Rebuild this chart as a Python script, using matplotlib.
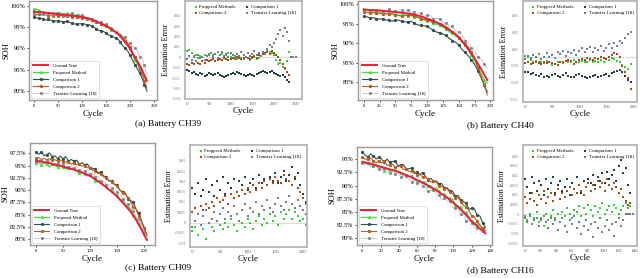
import numpy as np
import matplotlib
matplotlib.use("Agg")
import matplotlib.pyplot as plt

plt.rcParams['font.family'] = ['Liberation Serif', 'DejaVu Serif']

W, H = 640, 278

names_soh = ["Ground True", "Proposed Method", "Comparison 1", "Comparison 2", "Transfer Learning [18]"]
names_err = ["Proppsed Methods", "Comparison 1", "Comparison 2", "Transfer Learning [18]"]
captions = ["(a) Battery CH39", "(b) Battery CH40", "(c) Battery CH09", "(d) Battery CH16"]

# ---- CH39, every 5 cycles. SOH in %, errors in 1/1000
soh_a = [98.6, 98.55, 98.5, 98.45, 98.4, 98.35, 98.3, 98.25, 98.15, 98.1,
         98.0, 97.95, 97.9, 97.85, 97.8, 97.75, 97.7, 97.6, 97.55, 97.45,
         97.4, 97.25, 97.1, 96.95, 96.75, 96.5, 96.3, 96.05, 95.8, 95.55,
         95.3, 94.95, 94.6, 94.2, 93.8, 93.4, 92.8, 92.1, 91.4, 90.7,
         89.9, 88.9, 87.9, 87.0, 86.0, 84.9, 83.65, 82.4]
prop_a = [6, 7, 4, 1, 2, -1, 1, 0, 2, 1, 3, 4, 2, 3, 5, 2, 3, 1, 2, 4,
          0, -1, 1, -2, 0, -1, -2, 0, -1, -3, -1, 0, -2, -1, 1, 3, 4, 6, 5, 4,
          2, -3, -6, -5, -9, -11, -4, 5]
comp1_a = [-12, -13, -15, -14, -16, -17, -15, -16, -18, -17, -15, -16, -17, -16, -15, -17,
           -18, -19, -18, -17, -16, -15, -16, -14, -15, -16, -17, -18, -17, -16, -17, -18,
           -16, -15, -14, -13, -14, -15, -14, -13, -15, -16, -17, -18, -17, -19, -22, -24]
comp2_a = [-6, -7, -5, -6, -4, -5, -6, -4, -5, -3, -4, -3, -2, -4, -3, -2, -3, -1, -2, -3,
           -2, -1, -2, 0, -1, -2, -1, 0, -1, -2, 0, 1, -1, 2, 1, 3, 4, 5, 3, 6,
           4, 2, 0, -3, -6, -10, -14, -17]
tl_a = [-2, 1, -3, 0, -4, 2, -1, 0, -3, 1, 2, 4, 0, 3, -1, 2, 5, 1, 3, 0,
        4, 2, -1, 3, 1, 5, 2, 0, 4, 1, 3, 6, 2, 4, 1, 5, 3, 8, 12, 10,
        14, 18, 22, 26, 20, 28, 24, 16, 0, 0, 0]

# ---- CH40, every 5 cycles
soh_b = [98.6, 98.55, 98.5, 98.45, 98.4, 98.35, 98.3, 98.2, 98.15, 98.05,
         98.0, 97.9, 97.8, 97.7, 97.6, 97.5, 97.3, 97.1, 96.9, 96.6,
         96.3, 96.0, 95.7, 95.35, 95.0, 94.6, 94.1, 93.5, 92.9, 92.3,
         91.6, 90.6, 89.6, 88.5, 87.3, 86.1, 84.8, 83.5, 82.0, 80.6]
prop_b = [2, 0, -3, -5, -4, -6, -5, -7, -4, -6, -9, -8, -6, -5, -7, -4, -6, -5, -3, -6,
          -5, -4, -6, -5, -3, -5, -4, -6, -3, -5, -2, -3, -1, -2, -4, -6, -9, -11, -14, -8]
comp1_b = [-17, -18, -20, -19, -21, -22, -20, -23, -22, -24, -21, -20, -22, -23, -21, -19,
           -22, -24, -23, -21, -20, -22, -24, -25, -23, -22, -21, -23, -22, -21, -20, -22,
           -19, -17, -16, -15, -18, -22, -27, -30]
comp2_b = [-7, -6, -8, -7, -6, -7, -8, -6, -7, -5, -7, -8, -9, -6, -5, -4, -3, -4, -8, -5,
           -3, -2, -3, -1, -2, -3, -1, -2, 0, -1, -2, 1, 3, 5, 4, 1, -10, -18, -25, -38]
tl_b = [-2, 2, -1, 3, 0, 4, -2, 1, 5, 0, 3, -1, 6, 4, 8, 2, 7, 5, 9, 3,
        8, 11, 6, 10, 13, 7, 12, 9, 14, 8, 12, 16, 11, 18, 14, 20, 17, 24, 28, 31]

# ---- CH09, every 5 cycles
soh_c = [96.0, 95.9, 95.8, 95.7, 95.6, 95.5, 95.35, 95.2, 95.1, 94.95,
         94.8, 94.65, 94.5, 94.35, 94.2, 94.0, 93.8, 93.6, 93.35, 93.15,
         92.9, 92.55, 92.2, 91.8, 91.4, 91.0, 90.55, 90.1, 89.65, 89.2,
         88.7, 88.1, 87.5, 86.9, 86.25, 85.6, 84.8, 83.95, 83.0, 82.0,
         80.95, 79.9]
prop_c = [-4, -2, -6, -1, -3, -8, 0, -2, -4, 1, -1, -3, 0, -2, 2, -1, -4, 1, 0, -2,
          2, 0, -3, 1, 3, -1, 2, 0, 4, 1, 3, -1, 5, 2, 4, 6, 2, 5, 3, 1, 2, -1]
comp1_c = [17, 14, 19, 13, 16, 21, 15, 18, 13, 20, 16, 22, 14, 19, 17, 21, 15, 20, 18, 22,
           16, 19, 21, 17, 23, 19, 21, 18, 22, 20, 24, 19, 22, 25, 20, 23, 27, 21, 24, 18, 14, 10]
comp2_c = [5, 7, 4, 8, 6, 9, 7, 10, 8, 12, 10, 11, 13, 9, 14, 12, 15, 13, 16, 14,
           17, 15, 18, 16, 19, 17, 20, 18, 21, 19, 22, 20, 19, 23, 21, 20, 18, 22, 17, 15, 12, 9]
tl_c = [-2, 1, 4, -1, 3, 6, 0, 2, 5, 1, 4, 7, 2, 5, 3, 8, 4, 1, 6, 9,
        3, 7, 5, 10, 4, 8, 6, 11, 7, 5, 9, 12, 8, 6, 10, 13, 9, 7, 11, 8, 6, 4]

# ---- CH16, every 3 cycles
soh_d = [94.55, 94.4, 94.3, 94.15, 94.0, 93.85, 93.7, 93.55, 93.4, 93.25,
         93.1, 92.95, 92.8, 92.65, 92.45, 92.25, 92.0, 91.8, 91.55, 91.3,
         91.05, 90.8, 90.55, 90.3, 90.0, 89.7, 89.4, 89.1, 88.75, 88.4,
         88.05, 87.7, 87.3, 86.85, 86.4, 85.95, 85.45, 84.95, 84.4, 83.8,
         83.2, 82.75, 82.3, 81.85, 81.4, 80.95]
prop_d = [-1, -3, 0, -5, -2, 1, -4, -2, -6, 0, -3, -1, 2, -2, 0, -4, 1, -1, 3, 0,
          -2, 2, 1, 4, -1, 3, 0, 5, 2, -1, 4, 1, 3, 6, 0, 2, 4, 1, 5, 3,
          0, 2, 4, 6, 3, 4]
comp1_d = [18, 14, 11, 19, 16, 12, 17, 15, 10, 18, 13, 16, 19, 11, 15, 17, 12, 14, 18, 10,
           16, 13, 19, 15, 11, 17, 14, 18, 16, 20, 15, 19, 17, 21, 16, 22, 18, 20, 23, 17,
           25, 28, 21, 24, 15, 11]
comp2_d = [9, 6, 8, 11, 7, 5, 10, 8, 12, 6, 9, 11, 7, 10, 13, 8, 11, 9, 12, 14,
           10, 13, 11, 15, 12, 10, 14, 16, 12, 15, 13, 17, 14, 16, 12, 18, 15, 13, 16, 14,
           11, 13, 9, 7, 5, 6]
tl_d = [-2, -4, -1, -5, -3, -2, -6, -3, -1, -4, -7, -2, -5, -3, -8, -4, -2, -6, -9, -3,
        -5, -1, -7, -4, -10, -6, -3, -8, -5, -12, -4, -7, -2, -9, -6, -3, -8, -5, -11, -4,
        -2, -6, -3, 0, 0, 0, 0]

RED = '#e8203c'
soh_styles = [dict(color='#45dd45', marker='^', ms=1.4, lw=0.9),
              dict(color='#2f4f4f', marker='o', ms=1.3, lw=0.8),
              dict(color='#b8601e', marker='s', ms=1.2, lw=0.8),
              dict(color='#cccccc', marker='*', ms=1.8, lw=0.7, mfc='#8a8a8a', mec='#8a8a8a')]
err_colors = ['#33cc33', '#223f3f', '#a84a14', '#6f7f90']


def add_ax(fig, l, t, r, b):
    return fig.add_axes([l / W, 1 - b / H, (r - l) / W, (b - t) / H])


def soh_panel(fig, box, step, truth, errs, xlim, xticks, ylim, yticks, ylabels):
    ax = add_ax(fig, *box)
    truth = np.array(truth)
    cyc = np.arange(len(truth)) * step
    lines = [ax.plot(cyc, truth, color=RED, lw=1.4, zorder=5)[0]]
    for err, st in zip(errs, soh_styles):
        est = truth + np.array(err[:len(truth)]) / 10.0
        lines.append(ax.plot(cyc, est, markevery=2, **st)[0])
    ax.set_xlim(*xlim)
    ax.set_ylim(*ylim)
    ax.set_xticks(xticks)
    ax.set_yticks(yticks)
    ax.set_yticklabels(ylabels)
    ax.tick_params(axis='x', labelsize=3.4, length=1.5, width=0.5, pad=1.5)
    ax.tick_params(axis='y', labelsize=4.6, length=1.5, width=0.5, pad=1.0)
    for s in ax.spines.values():
        s.set_color('#9a9a9a')
        s.set_linewidth(1.0)
    ax.set_xlabel("Cycle", fontsize=6.5, labelpad=1)
    ax.set_ylabel("SOH", fontsize=6.0, labelpad=0.5)
    leg = ax.legend(lines, names_soh, loc='lower left', fontsize=3.4, handlelength=3.2,
                    labelspacing=0.55, borderpad=0.5, handletextpad=1.0, frameon=True,
                    fancybox=True, borderaxespad=0.4)
    leg.get_frame().set_edgecolor('#cccccc')
    leg.get_frame().set_linewidth(0.5)
    return ax


def err_panel(fig, box, step, errs, xlim, xticks, ylim, yticks):
    ax = add_ax(fig, *box)
    ax.axhline(0, color='#dddddd', lw=0.8, zorder=0)
    pts = []
    for err, c in zip(errs, err_colors):
        e = np.array(err) / 1000.0
        cyc = np.arange(len(e)) * step
        pts.append(ax.scatter(cyc, e, s=3.5, marker='s', color=c, linewidths=0))
    ax.set_xlim(*xlim)
    ax.set_ylim(*ylim)
    ax.set_xticks(xticks)
    ax.set_yticks(yticks)
    ax.set_yticklabels(["%g" % round(v, 3) for v in yticks])
    ax.tick_params(axis='x', labelsize=3.6, length=0, pad=2, labelcolor='#555555')
    ax.tick_params(axis='y', labelsize=3.0, length=0, pad=3, labelcolor='#777777')
    for s in ax.spines.values():
        s.set_color('#b0b0b0')
        s.set_linewidth(1.2)
    ax.set_xlabel("Cycle", fontsize=6.5, labelpad=1)
    ax.set_ylabel("Estimation Error", fontsize=5.6, labelpad=2)
    order = [0, 2, 1, 3]
    ax.legend([pts[i] for i in order], [names_err[i] for i in order], ncol=2,
              loc='upper left', bbox_to_anchor=(0.04, 1.0), frameon=False, fontsize=3.5,
              columnspacing=1.8, handletextpad=0.3, labelspacing=0.35, markerscale=1.0,
              handlelength=1.0, borderaxespad=0.3)
    return ax


def main():
    fig = plt.figure(figsize=(W / 100, H / 100), dpi=100)
    soh_ticks_ab = [100, 95, 90, 85, 80]
    soh_labels_ab = ["100%", "95%", "90%", "95%", "80%"]

    soh_panel(fig, (29, 1, 157, 100), 5, soh_a, [prop_a, comp1_a, comp2_a, tl_a],
              (-10, 256), [0, 50, 100, 150, 200, 250], (77.9, 101.1), soh_ticks_ab, soh_labels_ab)
    err_panel(fig, (185, 1, 302, 99), 5, [prop_a, comp1_a, comp2_a, tl_a],
              (-5, 265), [0, 50, 100, 150, 200, 250], (-0.04, 0.054),
              [0.04, 0.03, 0.02, 0.01, 0, -0.01, -0.02, -0.03, -0.04])

    soh_panel(fig, (358, 1, 493, 100), 5, soh_b, [prop_b, comp1_b, comp2_b, tl_b],
              (-9, 204), [0, 25, 50, 75, 100, 125, 150, 175, 200], (75.5, 100.8),
              soh_ticks_ab, soh_labels_ab)
    err_panel(fig, (523, 1, 637, 102), 5, [prop_b, comp1_b, comp2_b, tl_b],
              (-4, 207), [0, 50, 100, 150, 200], (-0.0536, 0.068),
              [0.05, 0.03, 0.01, -0.01, -0.03, -0.05])

    soh_panel(fig, (30, 143, 155, 245), 5, soh_c, [prop_c, comp1_c, comp2_c, tl_c],
              (-11, 220), [0, 50, 100, 150, 200], (78.84, 99.6),
              [97.5, 95, 92.5, 90, 87.5, 85, 82.5, 80],
              ["97.5%", "95%", "92.5%", "90%", "87.5%", "85%", "82.5%", "80%"])
    err_panel(fig, (190, 145, 307, 247), 5, [prop_c, comp1_c, comp2_c, tl_c],
              (-4, 207), [0, 50, 100, 150, 200], (-0.0118, 0.0376),
              [0.03, 0.025, 0.02, 0.015, 0.01, 0.005, 0, -0.005, -0.01])

    soh_panel(fig, (357, 147, 492, 245), 3, soh_d, [prop_d, comp1_d, comp2_d, tl_d],
              (-6, 142.3), [0, 20, 40, 60, 80, 100, 120, 140], (78.73, 97.33),
              [95, 92.5, 90, 87.5, 85, 82.5, 80],
              ["95%", "92.5%", "90%", "87.5%", "85%", "82.5%", "80%"])
    err_panel(fig, (523, 145, 637, 246), 3, [prop_d, comp1_d, comp2_d, tl_d],
              (-2.6, 143.5), [0, 20, 40, 60, 80, 100, 120, 140], (-0.0164, 0.0357),
              [0.03, 0.025, 0.02, 0.015, 0.01, 0.005, 0, -0.005, -0.01, -0.015])

    for (x, y), txt in zip([(168, 124), (500, 126), (158, 268), (500, 271)], captions):
        fig.text(x / W, 1 - y / H, txt, fontsize=6.8, ha='center', va='center')

    fig.savefig("out.png", dpi=100)


if __name__ == "__main__":
    main()
